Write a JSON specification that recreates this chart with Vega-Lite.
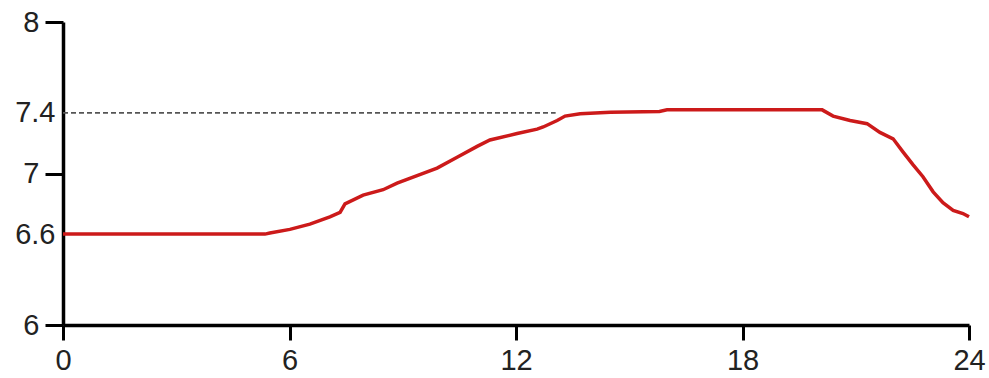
{
  "$schema": "https://vega.github.io/schema/vega-lite/v6.json",
  "width": 906,
  "height": 303,
  "autosize": {"type": "none"},
  "padding": {"left": 63, "top": 22, "right": 20, "bottom": 53},
  "background": "white",
  "config": {
    "view": {"stroke": null},
    "axis": {
      "domainColor": "black",
      "domainWidth": 3.5,
      "tickColor": "black",
      "tickWidth": 3,
      "grid": false,
      "labelFont": "Liberation Sans",
      "labelFontSize": 29,
      "labelColor": "#222222",
      "title": null,
      "format": ".1~f"
    }
  },
  "datasets": {
    "curve": [
      {"t": 0, "v": 6.6},
      {"t": 5.35, "v": 6.6},
      {"t": 5.48, "v": 6.607},
      {"t": 6.01, "v": 6.631},
      {"t": 6.54, "v": 6.666},
      {"t": 7.07, "v": 6.714},
      {"t": 7.34, "v": 6.743},
      {"t": 7.47, "v": 6.8},
      {"t": 7.95, "v": 6.857},
      {"t": 8.48, "v": 6.893},
      {"t": 8.85, "v": 6.936},
      {"t": 9.38, "v": 6.986},
      {"t": 9.91, "v": 7.036},
      {"t": 10.44, "v": 7.107},
      {"t": 10.97, "v": 7.179},
      {"t": 11.31, "v": 7.221},
      {"t": 12.03, "v": 7.264},
      {"t": 12.56, "v": 7.293},
      {"t": 12.72, "v": 7.307},
      {"t": 13.09, "v": 7.35},
      {"t": 13.3, "v": 7.379},
      {"t": 13.7, "v": 7.395},
      {"t": 14.5, "v": 7.405},
      {"t": 15.8, "v": 7.41},
      {"t": 16.0, "v": 7.42},
      {"t": 20.11, "v": 7.42},
      {"t": 20.4, "v": 7.379},
      {"t": 20.85, "v": 7.35},
      {"t": 21.3, "v": 7.329},
      {"t": 21.64, "v": 7.271},
      {"t": 21.99, "v": 7.229},
      {"t": 22.25, "v": 7.143},
      {"t": 22.52, "v": 7.057},
      {"t": 22.78, "v": 6.979},
      {"t": 23.05, "v": 6.879},
      {"t": 23.31, "v": 6.807},
      {"t": 23.58, "v": 6.757},
      {"t": 23.84, "v": 6.736},
      {"t": 24.0, "v": 6.714}
    ],
    "ref": [
      {"t": 0, "v": 7.4},
      {"t": 13.05, "v": 7.4}
    ]
  },
  "resolve": {"axis": {"y": "independent"}},
  "layer": [
    {
      "data": {"name": "ref"},
      "mark": {"type": "line", "color": "#555555", "strokeWidth": 1.6, "strokeDash": [5, 3]},
      "encoding": {
        "x": {"field": "t", "type": "quantitative"},
        "y": {
          "field": "v",
          "type": "quantitative",
          "axis": {
            "orient": "left",
            "values": [6.6, 7.4],
            "ticks": false,
            "domain": false,
            "labelPadding": 8,
            "labelFlush": false
          }
        }
      }
    },
    {
      "data": {"name": "curve"},
      "mark": {"type": "line", "color": "#cc1a1a", "strokeWidth": 3.5},
      "encoding": {
        "x": {
          "field": "t",
          "type": "quantitative",
          "scale": {"domain": [0, 24], "nice": false, "zero": false},
          "axis": {
            "values": [0, 6, 12, 18, 24],
            "tickSize": 15,
            "labelPadding": 6,
            "labelFlush": false
          }
        },
        "y": {
          "field": "v",
          "type": "quantitative",
          "scale": {"domain": [6, 8], "nice": false, "zero": false},
          "axis": {
            "orient": "left",
            "values": [6, 7, 8],
            "tickSize": 18,
            "labelPadding": 6,
            "labelFlush": false
          }
        }
      }
    }
  ]
}
